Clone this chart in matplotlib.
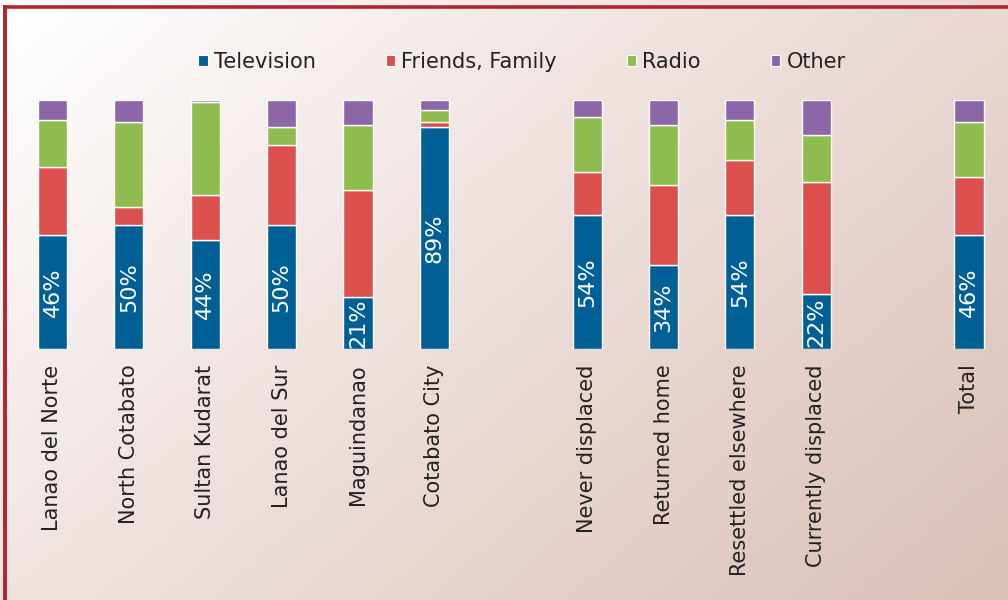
import numpy as np
import matplotlib
matplotlib.use("Agg")
import matplotlib.pyplot as plt
from matplotlib.patches import Patch
from matplotlib.lines import Line2D

# ---- data ----
categories = ["Lanao del Norte", "North Cotabato", "Sultan Kudarat", "Lanao del Sur",
              "Maguindanao", "Cotabato City", "Never displaced", "Returned home",
              "Resettled elsewhere", "Currently displaced", "Total"]
group_sizes = [6, 4, 1]
television = [46, 50, 44, 50, 21, 89, 54, 34, 54, 22, 46]
friends_family = [27, 7, 18, 32, 43, 2, 17, 32, 22, 45, 23]
radio = [19, 34, 37, 7, 26, 5, 22, 24, 16, 19, 22]
other = [8, 9, 1, 11, 10, 4, 7, 10, 8, 14, 9]
series_names = ["Television", "Friends, Family", "Radio", "Other"]

colors = ["#006096", "#DB4F4C", "#8FBC4F", "#8C66A6"]
text_color = "#222222"

# positions: groups separated by one empty slot
positions = []
p = 0
for g in group_sizes:
    for _ in range(g):
        positions.append(p)
        p += 1
    p += 1
positions = np.array(positions, dtype=float)

W, H = 1008, 600
fig = plt.figure(figsize=(W / 100, H / 100), dpi=100)

# background gradient
bg = fig.add_axes([0, 0, 1, 1], zorder=-10)
xx, yy = np.meshgrid(np.linspace(0, 1, 400), np.linspace(0, 1, 240))
t = np.clip(0.62 * xx + 0.42 * yy - 0.03, 0, 1) ** 0.9
c0 = np.array([255, 255, 255]) / 255.0
c1 = np.array([220, 192, 184]) / 255.0
img = c0[None, None, :] * (1 - t[..., None]) + c1[None, None, :] * t[..., None]
bg.imshow(img, aspect="auto", extent=[0, 1, 1, 0], interpolation="bilinear")
bg.set_xlim(0, 1)
bg.set_ylim(1, 0)
bg.axis("off")

# border (left and top only)
bx = 4.7 / W
by = 1 - 6.7 / H
fig.add_artist(Line2D([bx, bx], [-0.05, by], transform=fig.transFigure,
                      color="#B2242C", linewidth=2.8, solid_capstyle="projecting"))
fig.add_artist(Line2D([bx, 1.05], [by, by], transform=fig.transFigure,
                      color="#B2242C", linewidth=2.6, solid_capstyle="projecting"))

ax = fig.add_axes([14.3 / W, 1 - 349.3 / H, 992.9 / W, 249.3 / H])
ax.set_facecolor("none")

series = [television, friends_family, radio, other]
bottom = np.zeros(len(categories))
for vals, col, name in zip(series, colors, series_names):
    vals = np.array(vals, dtype=float)
    ax.bar(positions, vals, width=0.38, bottom=bottom, color=col,
           edgecolor="white", linewidth=1.0, label=name)
    bottom += vals

for x, v in zip(positions, television):
    ax.text(x, v / 2, f"{v}%", rotation=90, ha="center", va="center",
            color="white", fontsize=16)

ax.set_xlim(-0.5, positions[-1] + 0.5)
ax.set_ylim(0, 100)
ax.set_xticks(positions)
ax.set_xticklabels(categories, rotation=90, fontsize=15, color=text_color)
ax.tick_params(axis="x", length=0, pad=11)
ax.set_yticks([])
for s in ax.spines.values():
    s.set_visible(False)

handles = [Patch(facecolor=c, edgecolor="white", linewidth=0.8) for c in colors]
leg = fig.legend(handles, series_names, loc="center", bbox_to_anchor=(522 / W, 1 - 62 / H),
                 ncol=4, frameon=False, fontsize=15, handlelength=0.45, handleheight=0.45,
                 handletextpad=0.3, columnspacing=3.35)
for txt in leg.get_texts():
    txt.set_color(text_color)

fig.savefig("out.png", dpi=100)
